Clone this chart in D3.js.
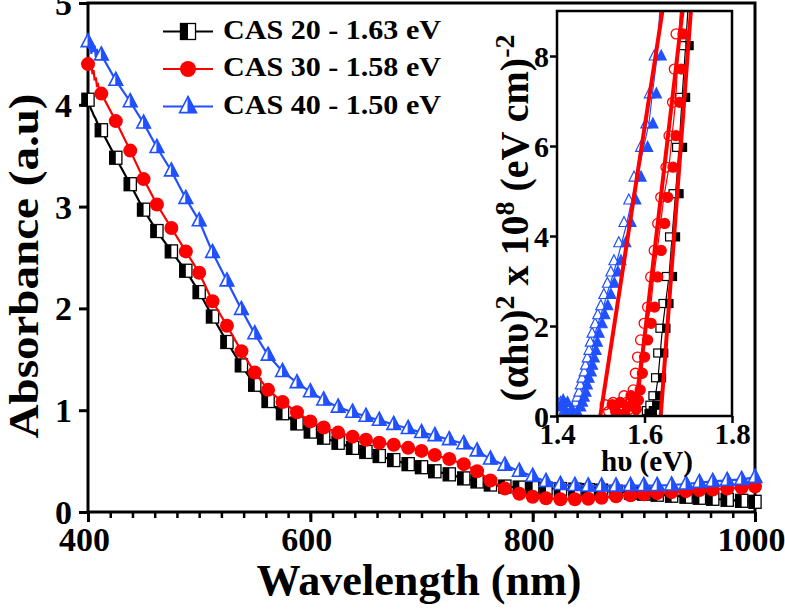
<!DOCTYPE html>
<html><head><meta charset="utf-8">
<script src="https://cdn.jsdelivr.net/npm/d3@7"></script>
<style>
body{margin:0;background:#fff}
text{font-family:"Liberation Serif","Times New Roman",serif;font-weight:bold;fill:#000}
</style>
</head><body>
<svg id="chart" width="785" height="610"></svg>
<script>
// ---------------- main data ----------------
const wavelengths = [400,412,425,438,450,462,475,488,500,512,525,538,550,562,575,588,600,612,625,638,650,662,675,688,700,712,725,738,750,762,775,788,800,812,825,838,850,862,875,888,900,912,925,938,950,962,975,988,1000];
const cas20 = [4.05,3.75,3.48,3.22,2.97,2.76,2.56,2.37,2.16,1.92,1.67,1.44,1.25,1.09,0.97,0.87,0.79,0.73,0.68,0.63,0.59,0.55,0.51,0.47,0.44,0.40,0.37,0.33,0.30,0.27,0.25,0.24,0.235,0.23,0.225,0.22,0.215,0.21,0.20,0.19,0.18,0.17,0.16,0.15,0.14,0.13,0.12,0.11,0.10];
const cas30 = [4.40,4.11,3.84,3.55,3.27,3.02,2.79,2.56,2.35,2.07,1.83,1.58,1.37,1.20,1.08,0.98,0.89,0.83,0.78,0.74,0.71,0.68,0.66,0.63,0.60,0.56,0.52,0.47,0.40,0.31,0.23,0.18,0.15,0.135,0.125,0.125,0.13,0.14,0.155,0.165,0.175,0.185,0.195,0.205,0.215,0.22,0.23,0.24,0.25];
const cas40 = [4.62,4.49,4.24,4.03,3.82,3.58,3.35,3.08,2.86,2.55,2.27,1.99,1.75,1.54,1.38,1.27,1.18,1.10,1.03,0.98,0.94,0.90,0.86,0.82,0.78,0.75,0.71,0.67,0.60,0.52,0.46,0.40,0.35,0.30,0.27,0.26,0.255,0.255,0.255,0.26,0.26,0.26,0.265,0.275,0.29,0.30,0.31,0.32,0.34];
// noisy start of the raw traces (line only, 400-411 nm)
const startWavelengths = [400,401,402,403,404,405,406,407,408,409,410,411];
const start20 = [4.05,4.00,3.98,3.95,3.93,3.90,3.88,3.86,3.83,3.81,3.79,3.77];
const start30 = [4.40,4.46,4.36,4.42,4.30,4.34,4.24,4.27,4.19,4.20,4.15,4.13];
const start40 = [4.62,4.55,4.64,4.50,4.60,4.52,4.58,4.47,4.55,4.46,4.53,4.47];
const xTicks = [400,600,800,1000];
const xMinorTicks = d3.range(400,1001,20);
const yTicks = [0,1,2,3,4,5];
const legendLabels = ["CAS 20 - 1.63 eV","CAS 30 - 1.58 eV","CAS 40 - 1.50 eV"];

// ---------------- inset data (Tauc plot) ----------------
const insetE20 = [1.600,1.610,1.618,1.625,1.631,1.636,1.641,1.648,1.656,1.663,1.671,1.679,1.686,1.694,1.701];
const insetV20 = [0.05,0.12,0.24,0.45,0.85,1.40,1.95,2.50,3.10,3.98,4.94,5.97,7.08,8.23,9.30];
const insetE30 = [1.517,1.525,1.535,1.545,1.552,1.560,1.566,1.572,1.577,1.581,1.586,1.591,1.598,1.606,1.614,1.621,1.629,1.637,1.644,1.656,1.663,1.671,1.675,1.679,1.684];
const insetV30 = [0.25,0.10,0.30,0.05,0.20,0.45,0.30,0.15,0.35,0.58,0.95,1.31,1.69,2.06,2.42,3.09,3.68,4.28,4.86,5.53,6.23,6.97,7.71,8.49,9.30];
const insetE40 = [1.400,1.405,1.410,1.415,1.420,1.425,1.430,1.437,1.445,1.449,1.453,1.457,1.460,1.464,1.469,1.472,1.476,1.480,1.483,1.487,1.494,1.500,1.507,1.514,1.522,1.530,1.537,1.548,1.560,1.571,1.583,1.598,1.610,1.618,1.629,1.636];
const insetV40 = [0.20,0.35,0.10,0.30,0.05,0.15,0.02,0.09,0.20,0.31,0.42,0.53,0.69,0.84,0.98,1.13,1.29,1.46,1.64,1.84,2.05,2.25,2.45,2.70,2.95,3.20,3.45,3.85,4.30,4.80,5.31,5.97,6.49,7.16,8.00,9.20];
// linear fits: [E at y=0, E at y=9]
const fitE20 = [1.637,1.706];
const fitE30 = [1.579,1.687];
const fitE40 = [1.499,1.641];
const fitV = [0,9];
const insetXTicks = [1.4,1.6,1.8];
const insetYTicks = [0,2,4,6,8];

// ---------------- drawing ----------------
const BLUE = "#2150ff", RED = "#ff0000", BLACK = "#000";
const FONT = "Liberation Serif";
const svg = d3.select("#chart");
const x = d3.scaleLinear().domain([400,1000]).range([88,755]);
const y = d3.scaleLinear().domain([0,5]).range([512,3]);

// axes
const gx = svg.append("g").attr("transform","translate(0,512)");
gx.call(d3.axisBottom(x).tickValues(xMinorTicks).tickSize(6).tickFormat(""));
gx.selectAll(".tick line").attr("stroke-width",2.5);
const gx2 = svg.append("g").attr("transform","translate(0,512)")
  .call(d3.axisBottom(x).tickValues(xTicks).tickSize(10).tickPadding(4).tickFormat(d3.format("d")));
gx2.selectAll(".tick line").attr("stroke-width",3);
gx2.selectAll(".tick text").attr("font-size",34).attr("font-family",FONT).attr("font-weight","bold")
  .attr("dy",null).attr("y",39).attr("x",-4);
svg.selectAll(".domain").remove();

const gy = svg.append("g").attr("transform","translate(88,0)")
  .call(d3.axisLeft(y).tickValues(yTicks).tickSize(9).tickPadding(6).tickFormat(d3.format("d")));
gy.select(".domain").remove();
gy.selectAll(".tick line").attr("stroke-width",3);
gy.selectAll(".tick text").attr("font-size",34).attr("font-family",FONT).attr("font-weight","bold").attr("dy","0.34em").attr("x",-16);

// frame
svg.append("rect").attr("x",88).attr("y",3).attr("width",667).attr("height",509)
  .attr("fill","none").attr("stroke","#000").attr("stroke-width",3);

// axis titles
svg.append("text").attr("x",419).attr("y",595).attr("text-anchor","middle")
  .attr("font-size",44).attr("textLength",325).attr("lengthAdjust","spacingAndGlyphs").text("Wavelength (nm)");
svg.append("text").attr("transform","translate(38,266) rotate(-90)").attr("text-anchor","middle")
  .attr("font-size",42).attr("textLength",345).attr("lengthAdjust","spacingAndGlyphs").text("Absorbance (a.u)");

// series
const series = [
  {vals:cas20,start:start20,color:BLACK,type:"square"},
  {vals:cas30,start:start30,color:RED,type:"circle"},
  {vals:cas40,start:start40,color:BLUE,type:"triangle"}
];
function drawMarker(g,type,color,cx,cy,s){
  if(type==="square"){
    g.append("rect").attr("x",cx-s*0.47).attr("y",cy-s*0.5).attr("width",s*0.94).attr("height",s)
      .attr("fill","#fff").attr("stroke","#000").attr("stroke-width",1.3);
    g.append("rect").attr("x",cx-s*0.47).attr("y",cy-s*0.5).attr("width",s*0.47).attr("height",s).attr("fill","#000");
  } else if(type==="circle"){
    g.append("circle").attr("cx",cx).attr("cy",cy).attr("r",s/2).attr("fill",color);
  } else {
    const h=s, w=s*1.05;
    const top=[cx,cy-h*0.62], bl=[cx-w/2,cy+h*0.38], br=[cx+w/2,cy+h*0.38];
    g.append("polygon").attr("points",[top,bl,br].map(p=>p.join(",")).join(" "))
      .attr("fill","#fff").attr("stroke",color).attr("stroke-width",1.6);
    g.append("polygon").attr("points",[top,br,[cx,cy+h*0.38]].map(p=>p.join(",")).join(" "))
      .attr("fill",color).attr("stroke",color).attr("stroke-width",1);
  }
}
const line = d3.line().x(d=>x(d[0])).y(d=>y(d[1]));
series.forEach(s=>{
  const pts = wavelengths.map((w,i)=>[w,s.vals[i]]);
  const linePts = startWavelengths.map((w,i)=>[w,s.start[i]]).concat(pts.slice(1));
  const g = svg.append("g");
  g.append("path").attr("d",line(linePts)).attr("fill","none").attr("stroke",s.color).attr("stroke-width",2.2);
  pts.forEach(p=>drawMarker(g,s.type,s.color,x(p[0]),y(p[1]),s.type==="circle"?14:13));
});

// legend
const lgY = [31.5,69,106.5];
series.forEach((s,i)=>{
  const g = svg.append("g");
  g.append("line").attr("x1",163).attr("x2",213).attr("y1",lgY[i]).attr("y2",lgY[i]).attr("stroke",s.color).attr("stroke-width",2.2);
  drawMarker(g,s.type,s.color,188,lgY[i],16);
  g.append("text").attr("x",223).attr("y",lgY[i]+7).attr("font-size",28)
    .attr("textLength",218).attr("lengthAdjust","spacingAndGlyphs").text(legendLabels[i]);
});

// ---------------- inset ----------------
const xi = d3.scaleLinear().domain([1.4,1.8]).range([557,732]);
const yi = d3.scaleLinear().domain([0,9]).range([416,11]);
svg.append("rect").attr("x",557).attr("y",11).attr("width",175).attr("height",405).attr("fill","#fff");
svg.append("defs").append("clipPath").attr("id","insetClip").append("rect")
  .attr("x",557).attr("y",11).attr("width",175).attr("height",405);
const ig = svg.append("g").attr("clip-path","url(#insetClip)");
const iline = d3.line().x(d=>xi(d[0])).y(d=>yi(d[1]));
const insetSeries = [
  {E:insetE20,V:insetV20,color:BLACK,type:"square"},
  {E:insetE30,V:insetV30,color:RED,type:"circle"},
  {E:insetE40,V:insetV40,color:BLUE,type:"triangle"}
];
function insetMarker(type,color,cx,cy,filled){
  const fill = filled?color:"none";
  if(type==="square"){
    ig.append("rect").attr("x",cx-3.5).attr("y",cy-4).attr("width",7).attr("height",8)
      .attr("fill",filled?color:"#fff").attr("stroke",color).attr("stroke-width",1.2);
  } else if(type==="circle"){
    ig.append("circle").attr("cx",cx).attr("cy",cy).attr("r",5).attr("fill",fill).attr("stroke",color).attr("stroke-width",1.3);
  } else {
    ig.append("polygon").attr("points",[[cx,cy-6],[cx-5,cy+4],[cx+5,cy+4]].map(p=>p.join(",")).join(" "))
      .attr("fill",filled?color:"#fff").attr("stroke",color).attr("stroke-width",1.2);
  }
}
insetSeries.forEach(s=>{
  const pts = s.E.map((e,i)=>[e,s.V[i]]);
  ig.append("path").attr("d",iline(pts)).attr("fill","none").attr("stroke",s.color).attr("stroke-width",1.2);
  pts.forEach(p=>insetMarker(s.type,s.color,xi(p[0])-3,yi(p[1]),false));
  pts.forEach(p=>insetMarker(s.type,s.color,xi(p[0])+4,yi(p[1]),true));
});
[fitE20,fitE30,fitE40].forEach(f=>{
  ig.append("path").attr("d",iline([[f[0],fitV[0]],[f[1],fitV[1]]]))
    .attr("stroke",RED).attr("stroke-width",4).attr("fill","none");
});
svg.append("rect").attr("x",557).attr("y",11).attr("width",175).attr("height",405)
  .attr("fill","none").attr("stroke","#000").attr("stroke-width",2.5);
const igx = svg.append("g").attr("transform","translate(0,416)")
  .call(d3.axisBottom(xi).tickValues(insetXTicks).tickSize(7).tickPadding(3).tickFormat(d3.format(".1f")));
igx.select(".domain").remove();
igx.selectAll(".tick line").attr("stroke-width",2.5);
igx.selectAll(".tick text").attr("font-size",29).attr("font-family",FONT).attr("font-weight","bold").attr("dy",null).attr("y",28);
const igy = svg.append("g").attr("transform","translate(557,0)")
  .call(d3.axisLeft(yi).tickValues(insetYTicks).tickSize(7).tickPadding(3).tickFormat(d3.format("d")));
igy.select(".domain").remove();
igy.selectAll(".tick line").attr("stroke-width",2.5);
igy.selectAll(".tick text").attr("font-size",30).attr("font-family",FONT).attr("font-weight","bold").attr("dy","0.34em").attr("x",-8);

svg.append("text").attr("x",647).attr("y",471).attr("text-anchor","middle").attr("font-size",29)
  .attr("textLength",92).attr("lengthAdjust","spacingAndGlyphs").text("h\u03C5 (eV)");
const yl = svg.append("text").attr("transform","translate(528,218) rotate(-90)").attr("text-anchor","middle").attr("font-size",40);
yl.append("tspan").text("(\u03B1h\u03C5)");
yl.append("tspan").attr("dy",-14).attr("font-size",28).text("2");
yl.append("tspan").attr("dy",14).text(" x 10");
yl.append("tspan").attr("dy",-14).attr("font-size",28).text("8");
yl.append("tspan").attr("dy",14).text(" (eV cm)");
yl.append("tspan").attr("dy",-14).attr("font-size",28).text("-2");
</script>
</body></html>
